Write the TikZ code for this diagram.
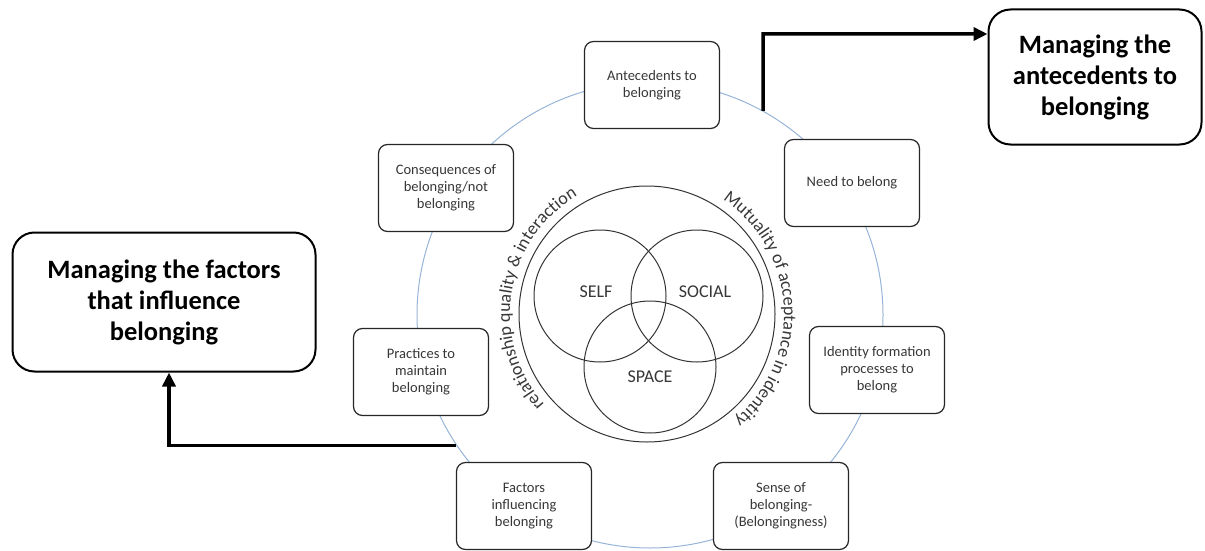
\documentclass[tikz,border=0pt]{standalone}
\usepackage{fontspec}
\setmainfont{Carlito}
\usepackage{tikz}
\definecolor{ringblue}{RGB}{150, 180, 215}
\definecolor{greytext}{RGB}{55, 55, 55}
\usetikzlibrary{arrows.meta}
\usetikzlibrary{decorations.text}

\begin{document}
\begin{tikzpicture}[
  stage/.style={rectangle, rounded corners=9pt, draw=black!85, line width=1.2pt, fill=white, minimum width=135pt, minimum height=87pt, align=center, text=greytext, font=\fontsize{14.5pt}{17pt}\selectfont},
  manage/.style={rectangle, rounded corners=22pt, draw=black, line width=2pt, fill=white, align=center, font=\fontsize{26.5pt}{31pt}\selectfont\bfseries},
  core/.style={circle, draw=black!80, line width=1pt, inner sep=0pt},
  corelabel/.style={text=greytext, font=\fontsize{18pt}{20pt}\selectfont},
  bigarrow/.style={line width=3.5pt, -{Triangle[length=14pt, width=13pt]}}
]
\useasboundingbox (0pt, 0pt) rectangle (1205pt, -551pt);
\node (ring) [circle, draw=ringblue, line width=1pt, minimum size=466pt, inner sep=0pt] at (650pt, -315pt) {};
\node (ante) [stage] at (652pt, -85pt) {Antecedents to\\belonging};
\node (need) [stage] at (852pt, -183pt) {Need to belong};
\node (ident) [stage] at (877pt, -370pt) {Identity formation\\processes to\\belong};
\node (sense) [stage] at (781pt, -506pt) {Sense of\\belonging-\\(Belongingness)};
\node (factor) [stage] at (524pt, -506pt) {Factors\\influencing\\belonging};
\node (practice) [stage] at (421pt, -372pt) {Practices to\\maintain\\belonging};
\node (conseq) [stage] at (446pt, -188pt) {Consequences of\\belonging/not\\belonging};
\node (mab) [manage, minimum width=213pt, minimum height=135pt] at (1095pt, -77pt) {Managing the\\antecedents to\\belonging};
\node (mfb) [manage, minimum width=303pt, minimum height=139pt] at (164pt, -302pt) {Managing the factors\\that influence\\belonging};
\node (frame) [core, minimum size=256pt] at (647pt, -314pt) {};
\node (self) [core, minimum size=132pt] at (600pt, -296pt) {};
\node (social) [core, minimum size=132pt] at (697pt, -296pt) {};
\node (space) [core, minimum size=132pt] at (650pt, -367pt) {};
\node (selft) [corelabel] at (596pt, -292pt) {SELF};
\node (socialt) [corelabel] at (705pt, -292pt) {SOCIAL};
\node (spacet) [corelabel] at (650pt, -377pt) {SPACE};
\path [shift={(647pt, -314pt)}, decorate, decoration={text along path, text align=center,
  text={|\fontsize{18pt}{20pt}\selectfont\color{greytext}|relationship quality {\&} interaction}}]
  (228:137pt) arc[start angle=228, end angle=114, radius=137pt];
\path [shift={(647pt, -314pt)}, decorate, decoration={text along path, text align=center,
  text={|\fontsize{18pt}{20pt}\selectfont\color{greytext}|Mutuality of acceptance in identity}}]
  (66:137pt) arc[start angle=66, end angle=-60, radius=137pt];
\coordinate (topR) at (763pt, -34pt);
\draw [bigarrow] (ring.61) -- (topR) -- (topR -| mab.west);
\draw [bigarrow] (ring.214) -| ([xshift=5pt]mfb.south);
\end{tikzpicture}
\end{document}
